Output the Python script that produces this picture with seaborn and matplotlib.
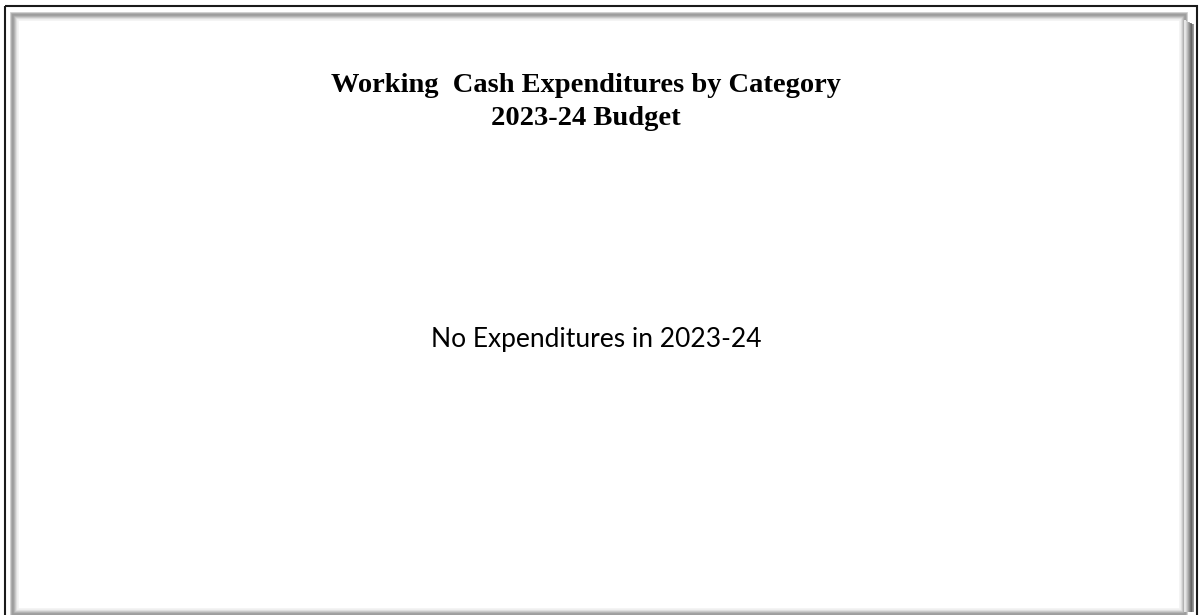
import numpy as np
import matplotlib.pyplot as plt
import seaborn as sns
from matplotlib.patches import Rectangle

# %%
# Chart text (no data for this year)
title_lines = ["Working  Cash Expenditures by Category", "2023-24 Budget"]
empty_message = "No Expenditures in 2023-24"
expenditures = []

# %%
sns.set_theme(style="white")
fig = plt.figure(figsize=(12.04, 6.15), dpi=100)
ax = fig.add_axes([0, 0, 1, 1])
ax.set_xlim(0, 1204)
ax.set_ylim(615, 0)
ax.axis("off")

# outer dark frame
ax.add_patch(Rectangle((4.5, 5.5), 1192, 620, fill=False, ec="#1a1a1a", lw=1.5))

# soft shadow band inside the frame
shades = ["#c8c8c8", "#a8a8a8", "#999999", "#a0a0a0", "#b4b4b4", "#cccccc", "#e2e2e2", "#f2f2f2"]
for i, c in enumerate(shades):
    off = 11 + i
    ax.add_patch(Rectangle((off, off + 2), 1204 - 2 * off - 6, 615 - 2 * off + 10,
                           fill=False, ec=c, lw=1.2))
# right side darker gradient
right_shades = ["#f4f4f4", "#e4e4e4", "#d0d0d0", "#b8b8b8", "#a0a0a0", "#888888", "#707070", "#606060", "#888888"]
for i, c in enumerate(right_shades):
    x = 1185 + i
    ax.plot([x, x], [20 + i * 0.5, 612], color=c, lw=1.2, solid_capstyle="butt")

# titles
ax.text(586, 92, title_lines[0], ha="center", va="baseline", fontsize=20.5,
        fontweight="bold", family="Liberation Serif", color="black")
ax.text(586, 125, title_lines[1], ha="center", va="baseline", fontsize=20.5,
        fontweight="bold", family="Liberation Serif", color="black")

if len(expenditures) == 0:
    ax.text(596, 347, empty_message, ha="center", va="baseline", fontsize=19,
            family="Lato", color="black")

fig.savefig("out.png", dpi=100, facecolor="white")
